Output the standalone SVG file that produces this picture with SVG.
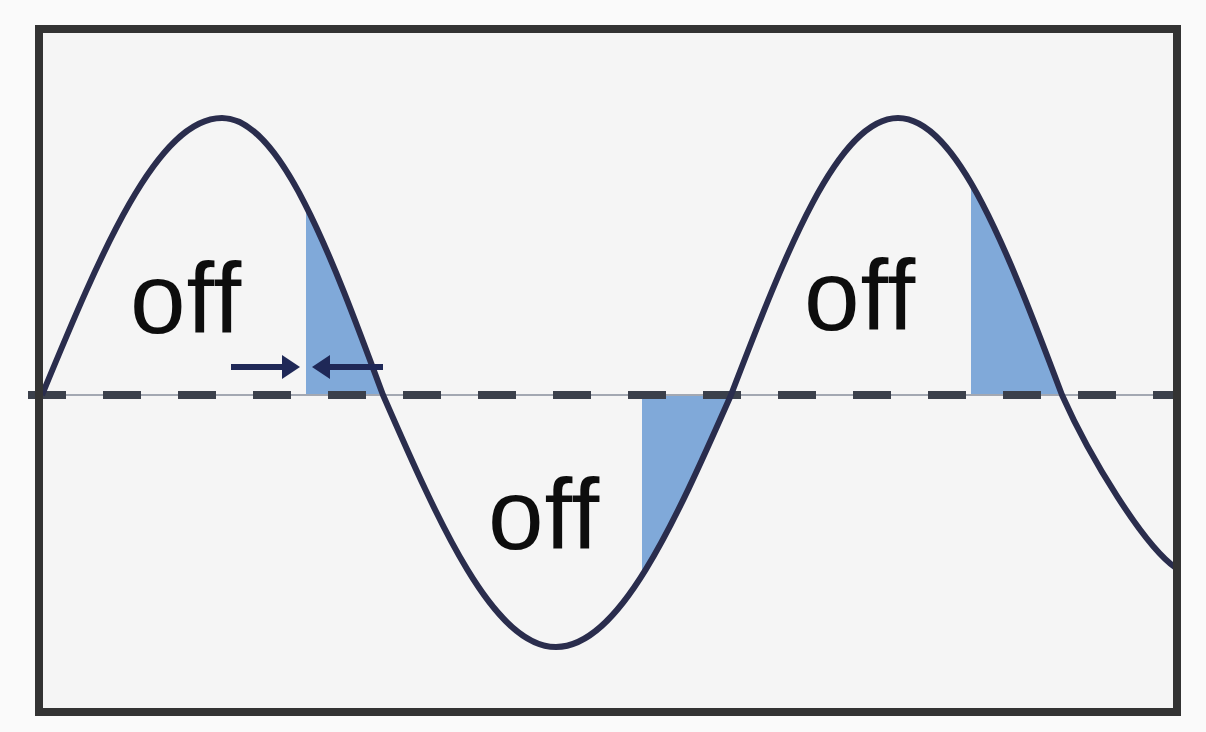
<svg xmlns="http://www.w3.org/2000/svg" width="1206" height="732" viewBox="0 0 1206 732">
  <style>
    .lbl { font-family: "Liberation Sans", Arial, sans-serif; font-size: 100px; fill: #0d0d0d; font-variant-ligatures: none; font-feature-settings: "liga" 0, "clig" 0; letter-spacing: 1px; }
    .wave { fill: none; stroke: #2a2d4d; stroke-width: 6; stroke-linejoin: round; }
    .shade { fill: #80a9d9; }
    .arrow { stroke: #1f2857; stroke-width: 6; fill: none; }
    .head { fill: #1f2857; }
  </style>
  <defs>
    <clipPath id="lobe1"><path d="M42,395 C100.7,253.1 157,118 222,118 C280.2,118 330.5,253.1 383,395 Z"/></clipPath>
    <clipPath id="lobe2"><path d="M383,395 C439.4,524.1 493.5,647 556,647 C619.2,647 674,524.1 731,395 Z"/></clipPath>
    <clipPath id="lobe3"><path d="M731,395 C785.5,253.1 837.7,118 898,118 C957.3,118 1008.5,253.1 1062,395 Z"/></clipPath>
  </defs>
  <rect x="0" y="0" width="1206" height="732" fill="#fafafa"/>
  <rect x="39" y="29" width="1138" height="683" fill="#f5f5f5"/>

  <g id="shading">
    <rect class="shade" x="306" y="100" width="85" height="295" clip-path="url(#lobe1)"/>
    <rect class="shade" x="642" y="395" width="95" height="260" clip-path="url(#lobe2)"/>
    <rect class="shade" x="971" y="100" width="95" height="295" clip-path="url(#lobe3)"/>
  </g>

  <g id="baseline">
    <line x1="40" y1="395" x2="1176" y2="395" stroke="#a3a8b2" stroke-width="2"/>
    <line x1="28" y1="395" x2="1176" y2="395" stroke="#3b404b" stroke-width="8" stroke-dasharray="38 37"/>
  </g>

  <g id="wave">
    <path class="wave" d="M42,395 C100.7,253.1 157,118 222,118 C280.2,118 330.5,253.1 383,395 C439.4,524.1 493.5,647 556,647 C619.2,647 674,524.1 731,395 C785.5,253.1 837.7,118 898,118 C957.3,118 1008.5,253.1 1062,395 C1090,458 1144,546 1176,568"/>
  </g>

  <g id="connectors">
    <line class="arrow" x1="231" y1="367" x2="286" y2="367"/>
    <polygon class="head" points="300,367 282,355 282,379"/>
    <line class="arrow" x1="326" y1="367" x2="383" y2="367"/>
    <polygon class="head" points="312,367 330,355 330,379"/>
  </g>

  <g id="label1"><text class="lbl" x="130" y="333">off</text></g>
  <g id="label2"><text class="lbl" x="488" y="549">off</text></g>
  <g id="label3"><text class="lbl" x="804" y="330">off</text></g>

  <g id="frame">
    <rect x="39" y="29" width="1138" height="683" fill="none" stroke="#333" stroke-width="8"/>
  </g>
</svg>
